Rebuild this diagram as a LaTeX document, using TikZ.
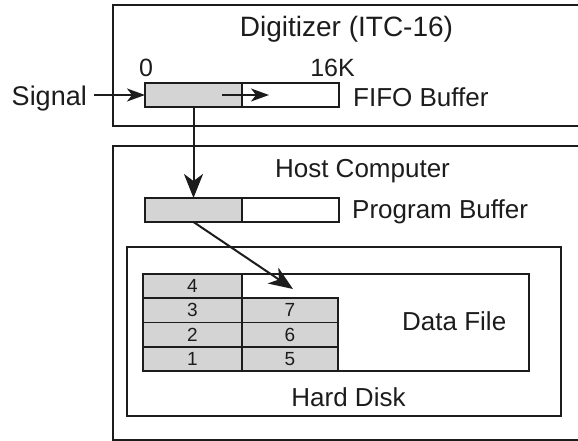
\documentclass[tikz,border=0pt]{standalone}
\usepackage{fontspec}
\setmainfont{Liberation Sans}
\usetikzlibrary{arrows.meta}
\definecolor{ink}{RGB}{28,28,28}
\definecolor{shade}{RGB}{212,212,212}
\begin{document}
\begin{tikzpicture}[x=1pt,y=-1pt,
  frame/.style={draw=ink,line width=1.9pt,inner sep=0pt,outer sep=0pt},
  cellbox/.style={frame,line width=1.9pt},
  graycell/.style={cellbox,fill=shade},
  numcell/.style={graycell,font=\fontsize{19}{19}\selectfont,text=ink},
  lbl/.style={inner sep=0pt,text=ink,font=\fontsize{26}{26}\selectfont},
  conn/.style={draw=ink,line width=2pt},
  bighead/.style={conn,-{Stealth[length=24pt,width=19pt,inset=7pt]}},
  smallhead/.style={conn,-{Stealth[length=18pt,width=13pt,inset=5pt]}}]
\useasboundingbox (0,0) rectangle (578,441);
\clip (0,0) rectangle (578,441);
% outer boxes
\node[frame,minimum width=487pt,minimum height=121pt] (digi) at (356.5,65.5) {};
\node[frame,minimum width=487pt,minimum height=294pt] (host) at (356.5,293) {};
\node[frame,minimum width=434pt,minimum height=169pt] (disk) at (344,331.5) {};
% data file
\node[frame,minimum width=386pt,minimum height=97pt] (dfile) at (336,322.5) {};
% FIFO buffer
\node[graycell,minimum width=97pt,minimum height=24pt] (fifoA) at (193.5,95) {};
\node[cellbox,minimum width=97pt,minimum height=24pt] (fifoB) at (290.5,95) {};
% program buffer
\node[graycell,minimum width=97pt,minimum height=24pt] (progA) at (193.5,210) {};
\node[cellbox,minimum width=97pt,minimum height=24pt] (progB) at (290.5,210) {};
% grid cells
\node[numcell,minimum width=99pt,minimum height=24.25pt] (c4) at (192.5,286.125) {4};
\node[numcell,minimum width=99pt,minimum height=24.25pt] (c3) at (192.5,310.375) {3};
\node[numcell,minimum width=99pt,minimum height=24.25pt] (c2) at (192.5,334.625) {2};
\node[numcell,minimum width=99pt,minimum height=24.25pt] (c1) at (192.5,358.875) {1};
\node[numcell,minimum width=96pt,minimum height=24.25pt] (c7) at (290,310.375) {7};
\node[numcell,minimum width=96pt,minimum height=24.25pt] (c6) at (290,334.625) {6};
\node[numcell,minimum width=96pt,minimum height=24.25pt] (c5) at (290,358.875) {5};
% labels
\node[lbl,font=\fontsize{28}{28}\selectfont,anchor=base] (tdigi) at (346.5,37) {Digitizer (ITC-16)};
\node[lbl,font=\fontsize{25}{25}\selectfont,anchor=base] (tzero) at (146,77) {0};
\node[lbl,font=\fontsize{25}{25}\selectfont,anchor=base] (tsixteen) at (332.5,77) {16K};
\node[lbl,anchor=base west] (tfifo) at (353,107) {FIFO Buffer};
\node[lbl,font=\fontsize{27}{27}\selectfont,anchor=base east,inner xsep=0pt] (tsig) at (87,106) {Signal};
\node[lbl,anchor=base] (thost) at (362.5,177) {Host Computer};
\node[lbl,anchor=base west] (tprog) at (352,218) {Program Buffer};
\node[lbl,anchor=base west] (tdata) at (402,330) {Data File};
\node[lbl,anchor=base] (tdisk) at (348.5,406) {Hard Disk};
% connectors
\coordinate (sigstart) at (94,95);
\draw[smallhead] (sigstart) -- (fifoA.west);
\coordinate (ia) at (222,95);
\coordinate (ib) at (269,95);
\draw[smallhead] (ia) -- (ib);
\draw[bighead] (fifoA.south) -- (progA.north);
\coordinate (dtip) at (293,289);
\draw[bighead] (progA.south) -- (dtip);
\end{tikzpicture}
\end{document}
